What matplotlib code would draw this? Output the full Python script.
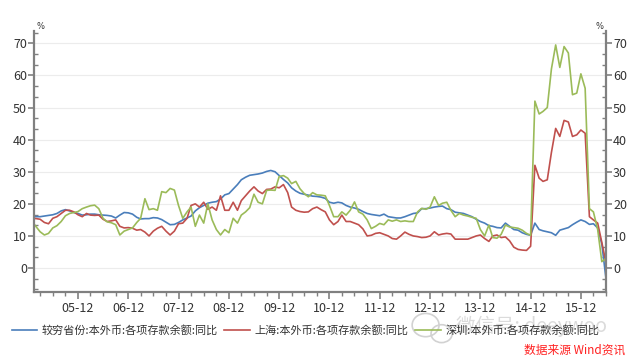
import matplotlib
matplotlib.use('Agg')
import matplotlib.pyplot as plt
import matplotlib.dates as mdates
from matplotlib.patches import Ellipse
from matplotlib.ticker import MultipleLocator
import pandas as pd

plt.rcParams['font.family'] = ['Noto Sans CJK SC', 'DejaVu Sans']

# monthly, 2005-01 .. 2016-06
dates = pd.date_range('2005-01-01', periods=138, freq='MS')

poor_provinces = [
    16, 16, 16, 16.2, 16.4, 16.6, 17, 17.8, 18.2, 17.8, 17.3, 17, 16.5, 16.6, 16.8, 16.8,
    16.6, 16.5, 16.4, 16.2, 15.6, 16.5, 17.3, 17.2, 16.8, 15.8,
    15.3, 15.4, 15.4, 15.7, 15.6, 15.1, 14.3, 13.5, 13.6, 14.2, 15, 15.6, 16.2, 17.8,
    18.8, 19.5, 20.2, 20.5, 20.7, 21.5, 22.8, 23.2, 24.6, 26,
    27.5, 28.3, 28.9, 29.1, 29.3, 29.6, 30.1, 30.4, 30, 28.8, 27.6, 26.5, 25, 24,
    23.3, 23, 22.7, 22.4, 22.3, 22.1, 21.7, 20.5, 20.2, 20.5,
    20.3, 19.5, 19, 18.7, 18.3, 17.6, 17, 16.7, 16.5, 16.3, 16.8, 16, 15.8, 15.6,
    15.6, 16, 16.5, 17, 17.2, 18.5, 18.5, 18.7, 19, 19.2,
    19.3, 18.5, 18.2, 17.4, 17.2, 17, 16.5, 16, 15.2, 14.5, 14, 13.2, 13, 12.6,
    12.5, 14, 13, 12, 11.8,
    11, 10.5, 10.2, 14, 12, 11.6, 11.3, 11, 10.2, 11.8, 12.2, 12.6, 13.5, 14.3,
    15, 14.5, 13.6, 13.8, 12.5, 7.5, -3.5,
]

shanghai = [
    15.5, 15.4, 15.2, 14.2, 13.8, 15.5, 16, 17, 18, 18, 17.5, 16.6, 16, 17, 16.5, 16.4,
    16.5, 15.2, 14.5, 14.7, 15, 13, 12.5, 12.6, 12.4, 11.8, 12, 11.2, 10, 11.5,
    12.4, 13, 11.5, 10.3, 11.5, 13.8, 14, 15.5, 19.5, 20, 19, 20.5, 18.3, 19, 18, 22.5, 18,
    18, 20.5, 18, 21, 22.5, 24, 25.3, 24, 23.2, 24.5, 24.6, 25.3, 25, 26, 23.5, 19,
    18, 17.6, 17.4, 17.5, 18.5, 19, 18.2, 17.5, 15, 13.5, 14.5,
    16.5, 14.5, 14.5, 14, 13.5, 12.2, 10, 10.2, 10.8, 11, 10.5, 10, 9.2, 9, 10,
    11.2, 10.5, 10, 9.8, 9.5,
    9.6, 10, 11.3, 10.3, 10.6, 10.8, 10.6, 9, 9, 9, 9, 9.5, 10, 10.3, 9.2, 8.3, 10,
    10.3, 9.5, 9.7, 8.5, 6.5, 5.8, 5.6, 5.5, 6.8,
    32, 28, 27, 27.5, 36, 43.5, 41, 46, 45.5, 41, 41.5, 43, 42, 16, 15, 14, 8, 1.5,
]

shenzhen = [
    14.5, 12.8, 11.3, 10.3, 10.8, 12.5, 13.2, 14.5, 16.3, 17, 17.3, 17.6, 18.5, 19,
    19.4, 19.6, 18.5, 15.5, 14.4, 14.1, 13.5, 10.3, 11.5, 12, 12.5, 14.2, 15.5, 21.6,
    18.2, 18.5, 18, 23.8, 23.5, 24.8, 24.3, 19.5, 15.5, 17.5, 19, 13, 16.5, 14, 20,
    15, 12, 10.3, 12, 11, 15.5, 14,
    16.5, 17.5, 18.8, 23, 20.5, 20, 24.2, 24.3, 24.2, 28.5, 28.8, 28, 26.3, 27, 24.7,
    23.2, 22.2, 23.5, 22.8, 22.7, 22.5, 19.5, 16, 16,
    17.5, 16.5, 18, 20.6, 17.5, 16.8, 15, 12.3, 13, 13.9, 13.5, 15, 14.6, 15, 14.5,
    14.7, 14.5, 14.5, 17.5, 18.6, 18.3, 19,
    22.2, 19.5, 20.2, 20.5, 18, 16, 17, 16.5, 16.2, 15.8, 15.5, 12, 10, 13.4, 9.5,
    9.3, 10.5, 13.4, 12.8, 12.6, 12.4, 11.8, 10.8, 10.2,
    52, 48, 48.8, 50, 62, 69.5, 62.5, 69, 67, 54, 54.5, 60.5, 56, 18.5, 17.5, 12, 2, 3,
]

labels = [
    '较穷省份:本外币:各项存款余额:同比',
    '上海:本外币:各项存款余额:同比',
    '深圳:本外币:各项存款余额:同比',
]
colors = ['#4a7ebb', '#c0504d', '#9bbb59']

fig = plt.figure(figsize=(6.4, 3.58), dpi=100)
ax = fig.add_axes([0.053, 0.184, 0.894, 0.729])

for series, label, color in zip([poor_provinces, shanghai, shenzhen], labels, colors):
    ax.plot(dates, series, color=color, lw=1.2, label=label)

ax.set_ylim(-7.5, 73.8)
ax.set_xlim(pd.Timestamp('2005-01-15'), pd.Timestamp('2016-06-01'))

ax.yaxis.set_major_locator(MultipleLocator(10))
ax.yaxis.set_minor_locator(MultipleLocator(10 / 3))
ax.xaxis.set_major_locator(mdates.MonthLocator(bymonth=12))
ax.xaxis.set_minor_locator(mdates.MonthLocator(bymonth=[3, 6, 9, 12]))
ax.xaxis.set_major_formatter(mdates.DateFormatter('%y-%m'))

ax.grid(axis='y', which='major', color='#ececec', lw=0.8)
ax.set_axisbelow(True)

axis_color = '#808080'
ax.spines['top'].set_visible(False)
for side in ['left', 'right', 'bottom']:
    ax.spines[side].set_color(axis_color)
    ax.spines[side].set_linewidth(1.6)

ax.tick_params(axis='y', which='major', direction='out', length=4, width=1.2,
               color=axis_color, labelsize=9, labelcolor='#333333',
               left=True, right=True, labelleft=True, labelright=True, pad=1)
ax.tick_params(axis='y', which='minor', direction='in', length=3, width=1,
               color=axis_color, left=True, right=True)
ax.tick_params(axis='x', which='major', direction='out', length=5, width=1.2,
               color=axis_color, labelsize=9, labelcolor='#333333', pad=2)
ax.tick_params(axis='x', which='minor', direction='out', length=3, width=1,
               color=axis_color)

ax.text(0.004, 1.0, '%', transform=ax.transAxes, fontsize=6, color='#333333',
        ha='left', va='bottom', family='DejaVu Sans')
ax.text(0.996, 1.0, '%', transform=ax.transAxes, fontsize=6, color='#333333',
        ha='right', va='bottom', family='DejaVu Sans')

fig.legend(loc='center left', bbox_to_anchor=(0.018, 0.078), ncol=3, frameon=False,
           fontsize=8, handlelength=2.3, handletextpad=0.4, columnspacing=0.6,
           labelcolor='#333333', borderaxespad=0, borderpad=0)

# watermark
fig.text(0.712, 0.088, '微信号: deeywoo', fontsize=14, color='#d2d2d2', alpha=0.8,
         ha='left', va='center')
fig.patches.append(Ellipse((0.665, 0.092), 0.042, 0.065, transform=fig.transFigure,
                           fill=False, ec='#d2d2d2', lw=1.2))
fig.patches.append(Ellipse((0.69, 0.068), 0.033, 0.05, transform=fig.transFigure,
                           fill=False, ec='#d2d2d2', lw=1.2))

fig.text(0.977, 0.022, '数据来源 Wind资讯', fontsize=8.5, color='#ff2020',
         ha='right', va='center', style='italic')

fig.savefig('out.png', dpi=100)
